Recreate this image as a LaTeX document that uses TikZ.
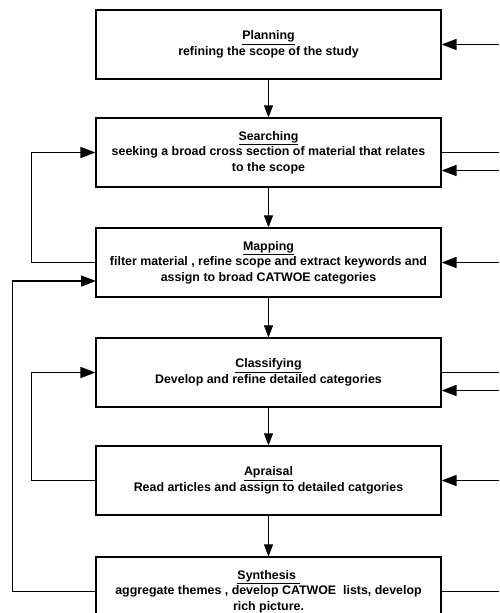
\documentclass[tikz,border=0pt]{standalone}
\usepackage{fontspec}
\setmainfont{Liberation Sans}
\usetikzlibrary{arrows.meta}
\begin{document}
\begin{tikzpicture}[x=1pt,y=-1pt,
  box/.style={draw, line width=1.2pt, minimum width=345pt, minimum height=69pt, align=center,
    font=\bfseries\fontsize{12.4}{15.5}\selectfont, inner sep=0pt},
  flow/.style={line width=0.8pt, -{Triangle[length=12pt,width=9pt]}},
  back/.style={line width=1.6pt, -{Triangle[length=15pt,width=11pt]}},
  outline/.style={line width=0.9pt}]
\useasboundingbox (0,0) rectangle (499,613);
\clip (0,0) rectangle (499,613);

\node[box] (plan)   at (268.5,44.5)  {\underline{Planning}\\refining the scope of the study};
\node[box] (search) at (268.5,152.5) {\underline{Searching}\\seeking a broad cross section of material that relates\\to the scope};
\node[box] (map)    at (268.5,262.5) {\underline{Mapping}\\filter material , refine scope and extract keywords and\\assign to broad CATWOE categories};
\node[box] (class)  at (268.5,372.5) {\underline{Classifying}\\Develop and refine detailed categories};
\node[box] (appr)   at (268.5,480.5) {\underline{Apraisal}\\Read articles and assign to detailed catgories};
\node[box] (syn)    at (268.5,591.5) {\underline{Synthesis\ }\\aggregate themes , develop CATWOE\ \ lists, develop\\rich picture.};

% downward flow
\draw[flow] (plan.south) -- (search.north);
\draw[flow] (search.south) -- (map.north);
\draw[flow] (map.south) -- (class.north);
\draw[flow] (class.south) -- (appr.north);
\draw[flow] (appr.south) -- (syn.north);

% left feedback loops
\coordinate (mIn) at (96,281);
\draw[back] (map.west) -- ++(-64,0) |- (search.west);
\draw[back] (appr.west) -- ++(-64,0) |- (class.west);
\draw[back] (syn.west) -- ++(-83,0) |- (mIn);

% right side connectors
\coordinate (rP) at (499,44.5);
\coordinate (rS1) at (499,152.5);
\coordinate (rS2) at (499,170.5);
\coordinate (rM) at (499,262.5);
\coordinate (rC1) at (499,372.5);
\coordinate (rC2) at (499,390.5);
\coordinate (rA) at (499,480.5);
\coordinate (rY) at (499,591.5);
\draw[back] (rP) -- (plan.east);
\draw[outline] (search.east) -- (rS1);
\draw[back] (rS2) -- (rS2 -| search.east);
\draw[back] (rM) -- (map.east);
\draw[outline] (class.east) -- (rC1);
\draw[back] (rC2) -- (rC2 -| class.east);
\draw[back] (rA) -- (appr.east);
\draw[back, -] (syn.east) -- (rY);
\end{tikzpicture}
\end{document}
